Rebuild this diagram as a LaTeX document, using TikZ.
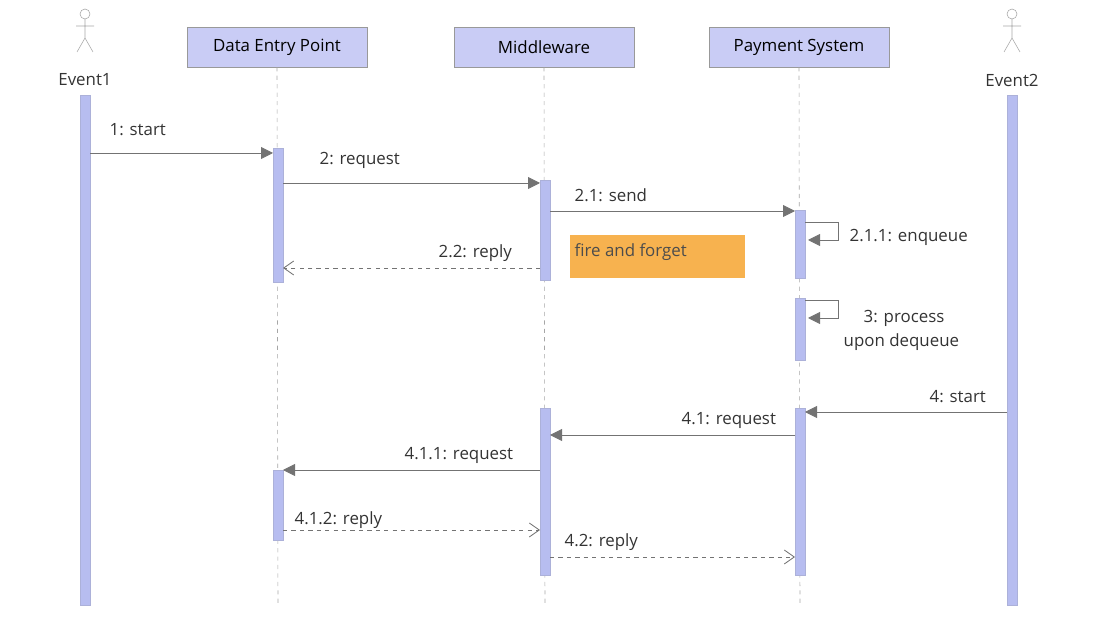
\documentclass[tikz,border=0pt]{standalone}
\usepackage{fontspec}
\setmainfont{Open Sans}
\usetikzlibrary{arrows.meta}
\definecolor{boxfill}{HTML}{C9CCF5}
\definecolor{barfill}{HTML}{B7BDF0}
\definecolor{notefill}{HTML}{F7B24F}
\tikzset{
  head/.style={draw=gray!80, fill=boxfill, minimum width=45mm, minimum height=10mm, font=\large},
  life/.style={gray!70, dashed, thin},
  bar/.style={draw=barfill!80!gray, fill=barfill},
  call/.style={draw=gray!90!black, semithick, -{Triangle[length=3mm,width=3mm]}},
  back/.style={draw=gray!90!black, semithick, dashed, -{Straight Barb[length=2.5mm,width=3.5mm]}},
  lbl/.style={font=\large, text=gray!40!black, anchor=west, inner sep=1pt}
}
\begin{document}
\begin{tikzpicture}[x=0.25mm,y=-0.25mm]
\useasboundingbox (0,0) rectangle (1111,617);
% actors
\foreach \x/\n in {85/Event1,1012/Event2}{
  \draw[gray!70] (\x,14) circle (5);
  \draw[gray!70] (\x,19) -- (\x,38) (\x-9,26) -- (\x+9,26)
    (\x,38) -- (\x-8,52) (\x,38) -- (\x+8,52);
  \node[font=\large, text=gray!40!black] at (\x,80) {\n};
  \draw[bar] (\x-5,95) rectangle (\x+5,605);
}
% heads and lifelines
\node[head] (dep) at (277,47) {Data Entry Point};
\node[head] (mid) at (544,47) {Middleware};
\node[head] (pay) at (799,47) {Payment System};
\foreach \n/\x in {dep/278,mid/545,pay/800}
  \draw[life] (\n.south) -- (\x,605);
% activations
\draw[bar] (273,148) rectangle (283,282);
\draw[bar] (540,180) rectangle (550,280);
\draw[bar] (795,210) rectangle (805,278);
\draw[bar] (795,298) rectangle (805,360);
\draw[bar] (540,408) rectangle (550,575);
\draw[bar] (795,408) rectangle (805,575);
\draw[bar] (273,470) rectangle (283,540);
% note
\fill[notefill] (570,235) rectangle (745,278);
\node[lbl, text=black!70] at (573,252) {fire and forget};
% messages
\draw[call] (90,153) -- (273,153);
\node[lbl] at (108,130) {1: start};
\draw[call] (283,183) -- (540,183);
\node[lbl] at (318,160) {2: request};
\draw[call] (550,211) -- (795,211);
\node[lbl] at (573,195) {2.1: send};
\draw[call] (805,222) -- (838,222) -- (838,240) -- (808,240);
\node[lbl] at (848,237) {2.1.1: enqueue};
\draw[back] (540,268) -- (283,268);
\node[lbl] at (437,253) {2.2: reply};
\draw[call] (805,300) -- (838,300) -- (838,318) -- (808,318);
\node[lbl] at (862,318) {3: process};
\node[lbl] at (842,342) {upon dequeue};
\draw[call] (1007,412) -- (805,412);
\node[lbl] at (928,397) {4: start};
\draw[call] (795,435) -- (550,435);
\node[lbl] at (680,420) {4.1: request};
\draw[call] (540,470) -- (283,470);
\node[lbl] at (403,455) {4.1.1: request};
\draw[back] (283,530) -- (540,530);
\node[lbl] at (293,520) {4.1.2: reply};
\draw[back] (550,557) -- (795,557);
\node[lbl] at (563,542) {4.2: reply};
\end{tikzpicture}
\end{document}
